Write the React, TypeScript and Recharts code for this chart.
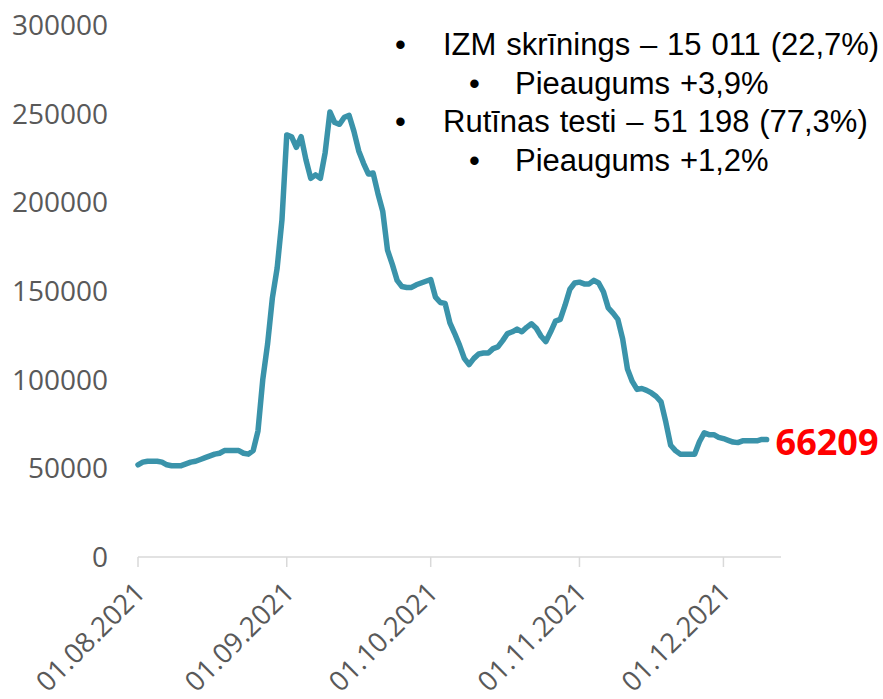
import React from "react";
import { LineChart, Line, XAxis, YAxis, LabelList } from "recharts";

// Daily number of tests, starting 01.08.2021 (one value per day)
const testCounts: number[] = [
  52000, 53500, 54000, 54000, 54000, 53500, 52000, 51500, 51500, 51500,
  52500, 53500, 54000, 55000, 56000, 57000, 58000, 58500, 60000, 60000,
  60000, 60000, 58500, 58000, 60000, 71000, 100000, 120000, 146000, 163000,
  190000, 238000, 237000, 231000, 237000, 224000, 213500, 215500, 213500, 228000,
  251000, 245000, 244000, 248000, 249000, 240000, 229000, 222000, 216000, 216500,
  205000, 195000, 173000, 165000, 156000, 152500, 152000, 152000, 153500, 154500,
  155500, 156500, 146500, 143500, 143000, 132000, 126000, 119500, 112000, 108500,
  112000, 114500, 115000, 115000, 117500, 118500, 122000, 126000, 127000, 128500,
  127000, 129500, 131500, 129000, 124500, 121500, 127000, 133000, 134000, 142000,
  151000, 154500, 155000, 154000, 154000, 156000, 154500, 149500, 140500, 137500,
  134000, 123000, 106000, 99000, 94500, 95000, 94000, 92500, 90500, 87500,
  76000, 63000, 60000, 58000, 58000, 58000, 58000, 65000, 70000, 69000,
  69000, 67500, 66800, 65800, 64800, 64500, 65500, 65500, 65500, 65500,
  66300, 66209,
];

const tickDays: number[] = [0, 31, 61, 92, 122];
const tickLabels: string[] = ["01.08.2021", "01.09.2021", "01.10.2021", "01.11.2021", "01.12.2021"];
const yTicks: number[] = [0, 50000, 100000, 150000, 200000, 250000, 300000];

const bulletLines: { level: number; text: string }[] = [
  { level: 1, text: "IZM skrīnings – 15 011 (22,7%)" },
  { level: 2, text: "Pieaugums +3,9%" },
  { level: 1, text: "Rutīnas testi – 51 198 (77,3%)" },
  { level: 2, text: "Pieaugums +1,2%" },
];

const data = testCounts.map((v, i) => ({ day: i, value: v }));
const lastIndex = testCounts.length - 1;

const XTick = (props: any) => {
  const { x, y, payload } = props;
  const idx = tickDays.indexOf(payload.value);
  const label = idx >= 0 ? tickLabels[idx] : "";
  const tx = x + 9;
  const ty = y + 25;
  return (
    <text
      x={tx}
      y={ty}
      textAnchor="end"
      transform={`rotate(-45 ${tx} ${ty})`}
      fill="#595959"
      fontSize={27.5}
      fontFamily="'Open Sans', sans-serif"
    >
      {label}
    </text>
  );
};

const LastLabel = (props: any) => {
  const { x, y, index, value } = props;
  if (index !== lastIndex) return null;
  return (
    <text
      x={x + 9}
      y={y + 2}
      dy="0.36em"
      fill="#FF0000"
      fontSize={36}
      fontWeight="bold"
      fontFamily="'Open Sans', sans-serif"
    >
      {value}
    </text>
  );
};

export default function App() {
  return (
    <div style={{ position: "absolute", left: 0, top: 0, width: 883, height: 699, background: "#fff" }}>
      <LineChart
        width={883}
        height={699}
        data={data}
        margin={{ top: 25, right: 102, bottom: 0, left: 0 }}
      >
        <XAxis
          dataKey="day"
          type="number"
          domain={[0, 134]}
          ticks={tickDays}
          interval={0}
          height={142}
          axisLine={{ stroke: "#d9d9d9", strokeWidth: 1.5 }}
          tickLine={{ stroke: "#d9d9d9", strokeWidth: 1.5 }}
          tickSize={10}
          tick={<XTick />}
        />
        <YAxis
          type="number"
          domain={[0, 300000]}
          ticks={yTicks}
          interval={0}
          width={138}
          axisLine={false}
          tickLine={false}
          tickSize={0}
          tickMargin={30}
          tick={{ fill: "#595959", fontSize: 28, fontFamily: "'Open Sans', sans-serif" }}
        />
        <Line
          type="linear"
          dataKey="value"
          stroke="#3A93AA"
          strokeWidth={5.5}
          strokeLinejoin="round"
          strokeLinecap="round"
          dot={false}
          activeDot={false}
          isAnimationActive={false}
        >
          <LabelList dataKey="value" content={<LastLabel />} />
        </Line>
      </LineChart>
      {bulletLines.map((b, i) => (
        <div
          key={i}
          style={{
            position: "absolute",
            left: b.level === 1 ? 395 : 469,
            top: 56 + i * 38.6 - 29,
            fontFamily: "'Liberation Sans', Arial, sans-serif",
            fontSize: 31,
            wordSpacing: 1.2,
            lineHeight: "36px",
            color: "#000",
            whiteSpace: "nowrap",
          }}
        >
          <span style={{ display: "inline-block", width: b.level === 1 ? 48 : 46 }}>•</span>
          {b.text}
        </div>
      ))}
    </div>
  );
}
